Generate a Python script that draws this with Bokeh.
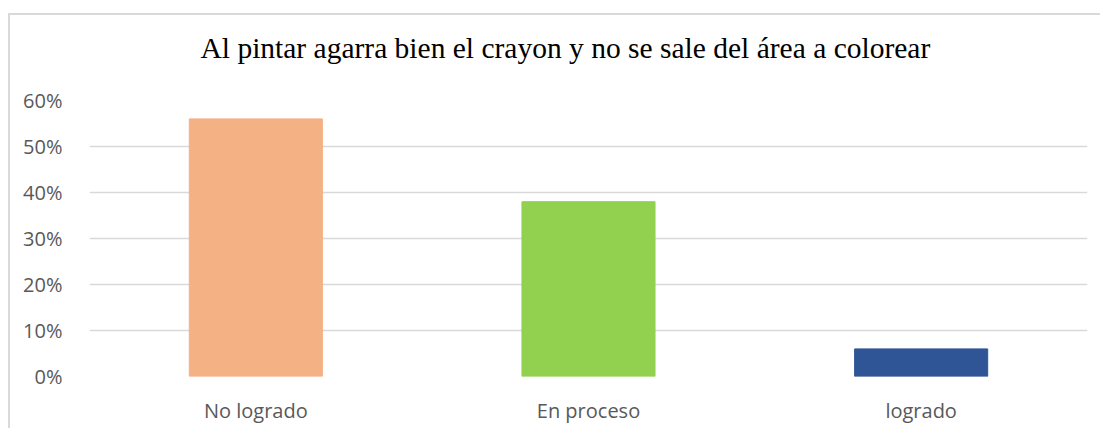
from bokeh.plotting import figure
from bokeh.models import ColumnDataSource, FixedTicker, NumeralTickFormatter, Range1d, Title
from bokeh.embed import file_html
from bokeh.resources import INLINE

title_text = "Al pintar agarra bien el crayon y no se sale del área a colorear"
categories = ["No logrado", "En proceso", "logrado"]
values = [0.56, 0.38, 0.06]
colors = ["#F4B183", "#92D050", "#2F5597"]
y_ticks = [0.0, 0.1, 0.2, 0.3, 0.4, 0.5, 0.6]

src = ColumnDataSource(data=dict(cat=categories, val=values, color=colors))

p = figure(x_range=categories, y_range=Range1d(0, 0.6),
           width=1092, height=415, output_backend="svg", toolbar_location=None,
           min_border_left=79, min_border_right=15, min_border_top=85, min_border_bottom=54,
           styles={"border-left": "2px solid #d9d9d9", "border-top": "2px solid #d9d9d9",
                   "margin-top": "13px", "margin-left": "8px"})
p.outline_line_color = None
p.x_range.range_padding = 0

p.vbar(x="cat", top="val", width=0.4, color="color", source=src)

p.yaxis.ticker = FixedTicker(ticks=y_ticks)
p.yaxis.formatter = NumeralTickFormatter(format="0%")
for ax in (p.xaxis[0], p.yaxis[0]):
    ax.axis_line_color = None
    ax.major_tick_line_color = None
    ax.minor_tick_line_color = None
    ax.major_label_text_font = "Open Sans"
    ax.major_label_text_font_size = "20px"
    ax.major_label_text_color = "#595959"
p.yaxis.major_label_standoff = 21
p.xaxis.major_label_standoff = 14

p.xgrid.grid_line_color = None
p.ygrid.grid_line_color = "#d9d9d9"
p.ygrid.grid_line_width = 1.5

# spacer between the frame and the title
p.add_layout(Title(text=" ", text_font_size="1px", standoff=20), "above")

p.title.text = title_text
p.title.align = "left"
p.title.offset = 111
p.title.standoff = 28
p.title.text_font = "Liberation Serif"
p.title.text_font_size = "29.5px"
p.title.text_font_style = "normal"
p.title.text_color = "#000000"

open("out.html", "w").write(file_html(p, INLINE))
